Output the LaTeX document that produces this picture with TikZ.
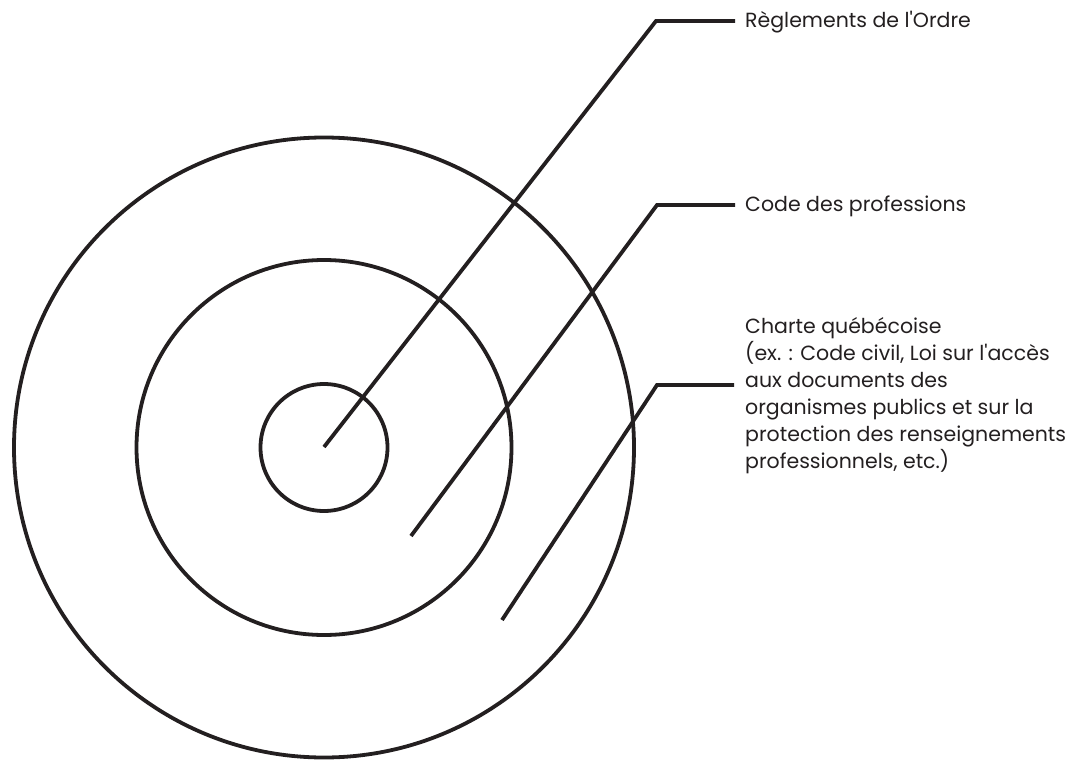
\documentclass[tikz,border=0pt]{standalone}
\usepackage{fontspec}
\setmainfont{Poppins}[Ligatures=TeXOff]
\definecolor{ink}{HTML}{231F20}
\begin{document}
\begin{tikzpicture}[x=1pt,y=-1pt,
  ring/.style={draw=ink, line width=3.8pt, circle, inner sep=0pt},
  leader/.style={draw=ink, line width=3.8pt, line cap=butt, line join=miter},
  label/.style={anchor=west, inner sep=0pt, text=ink, font=\fontsize{20.5}{27}\selectfont, align=left}]
  \useasboundingbox (0,0) rectangle (1077,760);
  % concentric rings
  \coordinate (c) at (324,447.5);
  \node[ring, minimum size=620pt] (outer) at (c) {};
  \node[ring, minimum size=375pt] (middle) at (c) {};
  \node[ring, minimum size=127pt] (inner) at (c) {};
  % leader end points and elbows
  \coordinate (s1) at (324,447);
  \coordinate (k1) at (656,21);
  \coordinate (e1) at (735,21);
  \coordinate (s2) at (411,536);
  \coordinate (k2) at (657,205);
  \coordinate (e2) at (735,205);
  \coordinate (s3) at (502,620);
  \coordinate (k3) at (657,385);
  \coordinate (e3) at (734,385);
  % labels
  \node[label] (t1) at (745,22) {Règlements de l'Ordre};
  \node[label] (t2) at (745,206) {Code des professions};
  \node[label, anchor=north west] (t3) at (745,317) {Charte québécoise\\(ex. : Code civil, Loi sur l'accès\\aux documents des\\organismes publics et sur la\\protection des renseignements\\professionnels, etc.)};
  % leaders
  \draw[leader] (s1) -- (k1) -- (e1);
  \draw[leader] (s2) -- (k2) -- (e2);
  \draw[leader] (s3) -- (k3) -- (e3);
\end{tikzpicture}
\end{document}
